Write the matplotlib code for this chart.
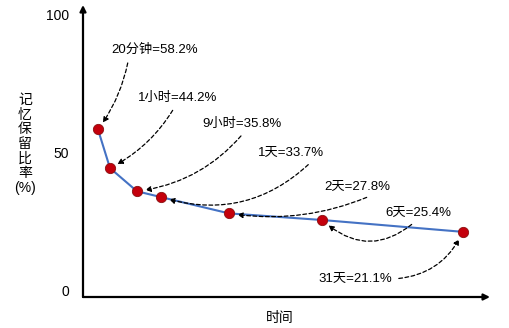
import matplotlib.pyplot as plt

plt.rcParams['font.family'] = ['Liberation Sans', 'Noto Sans CJK SC', 'DejaVu Sans']

# forgetting curve: elapsed time vs. share still remembered
labels = ['20分钟', '1小时', '9小时', '1天', '2天', '6天', '31天']
retention = [58.2, 44.2, 35.8, 33.7, 27.8, 25.4, 21.1]
time_pos = [15, 27, 54, 78, 146, 239, 380]
y_ticks = [0, 50, 100]

W, H = 509, 328
fig = plt.figure(figsize=(W / 100, H / 100), dpi=100)
ax = fig.add_axes([83 / W, 31 / H, (490 - 83) / W, (297 - 5) / H])
ax.set_xlim(0, 407)
ax.set_ylim(-2.5, 103.3)

for s in ax.spines.values():
    s.set_visible(False)
ax.set_xticks([])
ax.set_yticks(y_ticks)
ax.tick_params(length=0, pad=10, labelsize=10)

# axes drawn as arrows
axis_arrow = dict(arrowstyle='-|>', color='black', lw=1.6, shrinkA=0, shrinkB=0,
                  mutation_scale=9)
ax.annotate('', xy=(0, 1), xytext=(0, 0), xycoords='axes fraction',
            arrowprops=axis_arrow, annotation_clip=False)
ax.annotate('', xy=(1, 0), xytext=(0, 0), xycoords='axes fraction',
            arrowprops=axis_arrow, annotation_clip=False)

ax.plot(time_pos, retention, color='#4472c4', lw=1.5, zorder=2)
ax.scatter(time_pos, retention, s=55, facecolor='#c4000c', edgecolor='#8a1010',
           lw=0.6, zorder=3)


def fig_xy(px, py):
    return px / W, 1 - py / H


# label centre (px from top-left), where the arrow leaves the text, bend
spots = [
    (155, 50, (0.2, 0), -0.12),
    (178, 98, (0.48, 0), -0.15),
    (242, 124, (0.55, 0), -0.2),
    (291, 153, (0.85, 0), -0.3),
    (357, 187, (0.8, 0), -0.15),
    (418, 213, (0.5, 0), -0.45),
    (355, 279, (1, 0.5), 0.3),
]

for name, v, x, (px, py, rel, rad) in zip(labels, retention, time_pos, spots):
    ax.annotate(f'{name}={v}%', xy=(x, v), xytext=fig_xy(px, py),
                textcoords='figure fraction', ha='center', va='center',
                fontsize=9.5,
                arrowprops=dict(arrowstyle='-|>', linestyle=(0, (3, 2)), lw=0.9,
                                color='black', connectionstyle=f'arc3,rad={rad}',
                                relpos=rel, shrinkA=3, shrinkB=6,
                                mutation_scale=8))

fig.text(25 / W, 1 - 144 / H, '记\n忆\n保\n留\n比\n率\n(%)', ha='center',
         va='center', fontsize=10, linespacing=1.05)
fig.text(280 / W, 1 - 318 / H, '时间', ha='center', va='center', fontsize=10)

fig.savefig('out.png', dpi=100)
